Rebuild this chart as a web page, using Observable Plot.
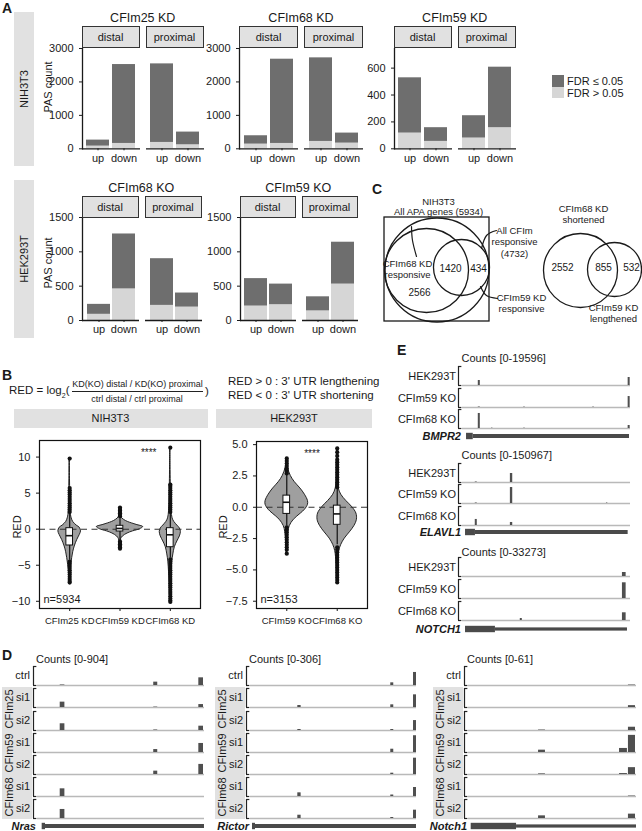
<!DOCTYPE html>
<html><head><meta charset="utf-8">
<script src="https://cdn.jsdelivr.net/npm/d3@7"></script>
<script src="https://cdn.jsdelivr.net/npm/@observablehq/plot@0.6"></script>
<style>
html,body{margin:0;padding:0;background:#fff;}
#fig{position:relative;width:642px;height:831px;overflow:hidden;font-family:"Liberation Sans",Arial,Helvetica,sans-serif;color:#1a1a1a;}
.t{position:absolute;white-space:nowrap;line-height:1;}
#fig svg{overflow:visible;}
</style></head><body><div id="fig"></div>
<script>
// ---------------- Panel A data ----------------
const directions = ["up", "down"];
const sites = ["distal", "proximal"];
const fdrLevels = ["FDR ≤ 0.05", "FDR > 0.05"];
// order of values: distal up, distal down, proximal up, proximal down
const kd25Total = [260, 2520, 2540, 500];
const kd25NonSig = [80, 160, 190, 120];
const kd68Total = [390, 2680, 2720, 470];
const kd68NonSig = [140, 160, 220, 170];
const kd59Total = [528, 157, 246, 607];
const kd59NonSig = [117, 55, 80, 157];
const ko68Total = [235, 1260, 900, 400];
const ko68NonSig = [90, 460, 220, 195];
const ko59Total = [610, 530, 345, 1140];
const ko59NonSig = [210, 230, 140, 530];
const yTicksKD = [0, 1000, 2000, 3000];
const yTicksKD59 = [0, 200, 400, 600];
const yTicksKO = [0, 500, 1000, 1500];

// ---------------- Panel B data ----------------
const nihGroups = ["CFIm25 KD", "CFIm59 KD", "CFIm68 KD"];
const hekGroups = ["CFIm59 KO", "CFIm68 KO"];
const nihN = 5934, hekN = 3153;
const nihTicks = [-10, -5, 0, 5, 10];
const hekTicks = [-7.5, -5, -2.5, 0, 2.5, 5];
// violin profiles: [RED, half width]
const violinNih25 = [[9.8,0.004],[7,0.006],[5,0.01],[3,0.015],[2,0.025],[1.5,0.04],[1,0.07],[0.5,0.14],[0.2,0.2],[-0.3,0.225],[-0.8,0.2],[-1.5,0.15],[-2.4,0.1],[-3.2,0.07],[-4,0.05],[-5,0.03],[-6,0.015],[-7.4,0.004]];
const violinNih59 = [[3.0,0.004],[2.2,0.008],[1.7,0.02],[1.3,0.08],[1.0,0.16],[0.6,0.33],[0.3,0.46],[0.0,0.4],[-0.3,0.26],[-0.6,0.15],[-1.0,0.06],[-1.4,0.02],[-2.0,0.008],[-2.7,0.004]];
const violinNih68 = [[11.3,0.004],[8,0.006],[6,0.01],[4,0.015],[2.5,0.025],[1.5,0.045],[1,0.08],[0.5,0.14],[0.1,0.19],[-0.4,0.21],[-1,0.19],[-1.7,0.14],[-2.5,0.09],[-3.5,0.06],[-4.5,0.04],[-6,0.025],[-8,0.012],[-10.1,0.004]];
const violinHek59 = [[3.9,0.004],[3.2,0.02],[2.5,0.08],[2.0,0.16],[1.5,0.27],[1.0,0.36],[0.5,0.42],[0.2,0.42],[-0.2,0.36],[-0.5,0.28],[-1.0,0.14],[-1.5,0.06],[-2.0,0.03],[-3.0,0.012],[-3.8,0.004]];
const violinHek68 = [[4.7,0.004],[3,0.008],[2,0.015],[1.5,0.03],[1.0,0.08],[0.5,0.18],[0.0,0.3],[-0.5,0.38],[-1.0,0.39],[-1.5,0.34],[-2.0,0.25],[-2.5,0.15],[-3.0,0.08],[-3.5,0.04],[-4.5,0.015],[-6.1,0.004]];
// box statistics: [q1, median, q3, whisker low, whisker high]
const boxNih = [[-2.26,-0.9,0.14,-4.3,2.2],[-0.32,0.1,0.47,-1.5,1.6],[-2.5,-0.78,0.14,-4.0,2.2]];
const boxHek = [[-0.53,0.4,0.93,-1.5,2.6],[-1.4,-0.53,0.13,-3.0,1.5]];
const outNih25 = [2.4,2.7,3.0,3.3,3.6,3.9,4.2,4.5,4.8,5.1,5.4,5.7,9.8,-4.5,-4.8,-5.1,-5.4,-5.7,-6.0,-6.3,-6.6,-6.9,-7.2,-7.4];
const outNih59 = [1.8,2.0,2.2,2.4,2.6,2.8,3.0,-1.7,-1.9,-2.1,-2.3,-2.5,-2.7];
const outNih68 = [2.4,2.7,3.0,3.3,3.6,3.9,4.2,4.5,4.8,5.1,5.4,5.7,6.0,6.2,11.3,-4.2,-4.5,-4.8,-5.1,-5.4,-5.7,-6.0,-6.3,-6.6,-6.9,-7.2,-7.5,-7.8,-8.1,-8.4,-8.7,-9.0,-9.3,-9.6,-9.9,-10.1];
const outHek59 = [2.7,2.9,3.1,3.3,3.5,3.7,3.9,-1.6,-1.8,-2.0,-2.2,-2.4,-2.6,-2.8,-3.0,-3.2,-3.4,-3.7];
const outHek68 = [1.6,1.8,2.0,2.2,2.4,2.6,2.8,3.0,3.2,3.4,3.6,3.8,4.1,4.4,4.7,-3.2,-3.4,-3.6,-3.8,-4.0,-4.2,-4.4,-4.6,-4.8,-5.0,-5.2,-5.4,-5.6,-5.8,-6.0];

// ---------------- Panel C data ----------------
const vennAllApa = 5934;
const vennAllCfim = 4732;
const venn68Only = 2566, venn68and59 = 1420, venn59Only = 434;
const vennShortOnly = 2552, vennShortLong = 855, vennLongOnly = 532;

// ---------------- Panel D data (site positions in % of locus) ----------------
const dTracks = ["ctrl", "CFIm25 si1", "CFIm25 si2", "CFIm59 si1", "CFIm59 si2", "CFIm68 si1", "CFIm68 si2"];
const nrasMax = 904, rictorMax = 306, notch1Max = 61;
const nrasSiteFrom = [13.6, 69.6, 96.6];
const nrasSiteTo = [16.4, 72.0, 99.4];
const nrasCounts = [[25,160,365],[255,20,140],[320,25,205],[0,140,430],[0,160,480],[365,0,0],[430,0,0]];
const rictorSiteFrom = [28.5, 84.5, 98.2];
const rictorSiteTo = [30.5, 86.3, 100];
const rictorCounts = [[0,43,210],[32,43,204],[16,16,160],[0,53,270],[0,21,263],[59,24,145],[53,16,134]];
const notch1SiteFrom = [41.7, 89.9, 95.2];
const notch1SiteTo = [45.8, 94.6, 99.4];
const notch1Counts = [[0,0,1.5],[0,0,6],[1.5,0,10.5],[7.5,13,55],[2,3,22],[0,0,1.5],[8.5,0,14]];
const nrasModel = [[2.8, 4.8, "box"], [4.8, 100, "line"]];
const rictorModel = [[1.2, 3.0, "box"], [3.0, 100, "line"]];
const notch1Model = [[1.6, 28.6, "box"], [28.6, 100, "thin"]];

// ---------------- Panel E data ----------------
const eTracks = ["HEK293T", "CFIm59 KO", "CFIm68 KO"];
const bmpr2Max = 19596, elavl1Max = 150967, notch1hMax = 33273;
const bmpr2SiteFrom = [9.4, 17.3, 36.5, 77.6, 98.6];
const bmpr2SiteTo = [10.6, 18.1, 37.3, 78.4, 99.8];
const bmpr2Counts = [[5150,0,0,0,8250],[500,0,500,500,11300],[15500,400,400,0,3100]];
const elavl1SiteFrom = [7.6, 28.5, 85.7];
const elavl1SiteTo = [8.8, 29.9, 86.5];
const elavl1Counts = [[4000,71500,0],[4000,127000,4000],[48000,24000,0]];
const notch1hSiteFrom = [34.4, 95.2];
const notch1hSiteTo = [35.6, 97.4];
const notch1hCounts = [[0,7000],[0,27500],[3500,13500]];
const bmpr2Model = [[2.4, 6.4, "box"], [6.4, 99.4, "line"]];
const elavl1Model = [[1.8, 7.7, "box"], [7.7, 98.6, "line"]];
const notch1hModel = [[1.8, 19.6, "box"], [19.6, 98.2, "thin"]];

// ---------------- helpers ----------------
const FONT = '"Liberation Sans", Arial, Helvetica, sans-serif';
const STRIP = "#e1e1e1";
const DARK = "#6e6e6e", LIGHT = "#d6d6d6";
const INK = "#1a1a1a";
const fig = document.getElementById("fig");
function place(node, left, top) {
  node.style.position = "absolute";
  node.style.left = left + "px";
  node.style.top = top + "px";
  fig.appendChild(node);
  return node;
}
function text(s, x, y, o = {}) {
  const d = document.createElement("div");
  d.className = "t";
  if (o.html) d.innerHTML = s; else d.textContent = s;
  d.style.fontSize = (o.size || 11) + "px";
  if (o.bold) d.style.fontWeight = "bold";
  if (o.italic) d.style.fontStyle = "italic";
  const a = o.anchor || "middle";
  const tx = a === "start" ? "0%" : a === "end" ? "-100%" : "-50%";
  d.style.transform = `translate(${tx},-50%)` + (o.rotate ? ` rotate(${o.rotate}deg)` : "");
  return place(d, x, y);
}
function box(x, y, w, h, fill, border) {
  const d = document.createElement("div");
  d.style.width = w + "px";
  d.style.height = h + "px";
  d.style.background = fill;
  d.style.boxSizing = "border-box";
  if (border) d.style.border = border;
  return place(d, x, y);
}
const baseStyle = {fontFamily: FONT, fontSize: "11px", color: INK, background: "transparent", overflow: "visible"};

// ---------------- Panel A ----------------
function barPanel(title, total, nonsig, ymax, yticks, fL, fR, fT, fB, stripTop, titleY) {
  const rows = [];
  sites.forEach((s, i) => directions.forEach((d, j) => rows.push({site: s, dir: d, fdr: fdrLevels[1], n: nonsig[i * 2 + j]})));
  sites.forEach((s, i) => directions.forEach((d, j) => rows.push({site: s, dir: d, fdr: fdrLevels[0], n: total[i * 2 + j] - nonsig[i * 2 + j]})));
  const ML = 40, MR = 2, MT = 6, MB = 22;
  const svg = Plot.plot({
    width: ML + (fR - fL) + MR, height: MT + (fB - fT) + MB,
    marginLeft: ML, marginRight: MR, marginTop: MT, marginBottom: MB,
    style: baseStyle,
    fx: {domain: sites, paddingInner: 0.1, paddingOuter: 0, axis: null, label: null},
    x: {domain: directions, paddingInner: 0.1, paddingOuter: 0.15},
    y: {domain: [0, ymax]},
    color: {domain: fdrLevels, range: [DARK, LIGHT]},
    marks: [
      Plot.barY(rows, {fx: "site", x: "dir", y: "n", fill: "fdr"}),
      Plot.ruleY([0], {stroke: INK, strokeWidth: 1.3}),
      Plot.frame({anchor: "left", facetAnchor: "left", stroke: INK, strokeWidth: 1.3}),
      Plot.axisY({ticks: yticks, tickFormat: "d", tickSize: 3, label: null, fontSize: 11}),
      Plot.axisX({tickSize: 2, tickPadding: 3, label: null, fontSize: 11})
    ]
  });
  place(svg, fL - ML, fT - MT);
  const fx = svg.scale("fx");
  sites.forEach(s => {
    const x0 = fL - ML + fx.apply(s);
    box(x0, stripTop, fx.bandwidth, fT - stripTop + 0.5, STRIP, "1.2px solid #333");
    text(s, x0 + fx.bandwidth / 2, (stripTop + fT) / 2 + 0.5, {size: 11});
  });
  text(title, (fL + fR) / 2, titleY, {size: 12.5});
}

text("A", 2, 8, {anchor: "start", bold: true, size: 14});
box(14, 12, 20, 154, STRIP);
text("NIH3T3", 24, 89, {rotate: -90, size: 11});
box(14, 180, 20, 158, STRIP);
text("HEK293T", 24, 259, {rotate: -90, size: 11});
text("PAS count", 48, 87, {rotate: -90, size: 11});
text("PAS count", 48, 263, {rotate: -90, size: 11});

barPanel("CFIm25 KD", kd25Total, kd25NonSig, 3000, yTicksKD, 81.5, 204, 47.7, 148, 26, 18.3);
barPanel("CFIm68 KD", kd68Total, kd68NonSig, 3000, yTicksKD, 239, 363, 47.7, 148, 26, 18.3);
barPanel("CFIm59 KD", kd59Total, kd59NonSig, 746, yTicksKD59, 393.5, 516, 47.7, 148, 26, 18.3);
barPanel("CFIm68 KO", ko68Total, ko68NonSig, 1500, yTicksKO, 80.5, 202, 217, 320, 196, 188.3);
barPanel("CFIm59 KO", ko59Total, ko59NonSig, 1500, yTicksKO, 238.5, 358, 217, 320, 196, 188.3);

// legend
box(552, 75, 12, 11.5, DARK);
box(552, 86.5, 12, 11.5, LIGHT);
text(fdrLevels[0], 567, 81, {anchor: "start", size: 11});
text(fdrLevels[1], 567, 92.5, {anchor: "start", size: 11});

// ---------------- Panel B ----------------
text("B", 2, 375, {anchor: "start", bold: true, size: 14});
text('RED = log<sub style="font-size:7px">2</sub>(', 9, 392, {anchor: "start", size: 11.5, html: true});
text("KD(KO) distal / KD(KO) proximal", 137.5, 383.5, {size: 9});
box(72, 390.5, 131, 1, "#222");
text("ctrl distal / ctrl proximal", 137, 398.5, {size: 9});
text(")", 207, 392, {size: 11.5});
text("RED > 0 : 3' UTR lengthening", 228, 382, {anchor: "start", size: 11.5});
text("RED < 0 : 3' UTR shortening", 228, 396, {anchor: "start", size: 11.5});
box(13.5, 408.5, 194, 19, STRIP);
text("NIH3T3", 110.5, 418, {size: 11});
box(216, 408.5, 156, 19, STRIP);
text("HEK293T", 294, 418, {size: 11});

function violinPanel(groups, profiles, stats, outs, ydom, yticks, yfmt, fL, fR, fT, fB, nText, starPos) {
  const ML = 36, MR = 4, MT = 6, MB = 22;
  const n = groups.length;
  const boxRows = stats.map((s, i) => ({pos: i + 1, q1: s[0], med: s[1], q3: s[2], lo: s[3], hi: s[4]}));
  const dotRows = outs.flatMap((arr, i) => arr.map(v => ({pos: i + 1, v})));
  const hw = 0.066;
  const svg = Plot.plot({
    width: ML + (fR - fL) + MR, height: MT + (fB - fT) + MB,
    marginLeft: ML, marginRight: MR, marginTop: MT, marginBottom: MB,
    style: baseStyle,
    x: {domain: [0.4, n + 0.6]},
    y: {domain: ydom},
    marks: [
      ...profiles.map((prof, i) => Plot.areaX(prof, {y: d => d[0], x1: d => i + 1 - d[1], x2: d => i + 1 + d[1], fill: "#9f9f9f", stroke: "#111", strokeWidth: 0.9, curve: "catmull-rom"})),
      Plot.ruleY([0], {stroke: "#333", strokeDasharray: "6,4.5", strokeWidth: 1.1}),
      Plot.ruleX(boxRows, {x: "pos", y1: "lo", y2: "hi", stroke: "#111", strokeWidth: 1.2}),
      Plot.dot(dotRows, {x: "pos", y: "v", r: 2.1, fill: "#111", stroke: null}),
      Plot.rect(boxRows, {x1: d => d.pos - hw, x2: d => d.pos + hw, y1: "q1", y2: "q3", fill: "white", stroke: "#111", strokeWidth: 1}),
      Plot.ruleY(boxRows, {y: "med", x1: d => d.pos - hw, x2: d => d.pos + hw, stroke: "#111", strokeWidth: 1.6}),
      Plot.text(["****"], {x: starPos, frameAnchor: "top", dy: 8, fontSize: 10}),
      Plot.text([nText], {frameAnchor: "bottom-left", dx: 4, dy: -6, textAnchor: "start", fontSize: 11}),
      Plot.frame({stroke: "#111", strokeWidth: 1.2}),
      Plot.axisY({ticks: yticks, tickFormat: yfmt, tickSize: 3, label: null, fontSize: 11}),
      Plot.axisX({ticks: d3.range(1, n + 1), tickFormat: i => groups[i - 1], tickSize: 3, label: null, fontSize: 9.5})
    ]
  });
  place(svg, fL - ML, fT - MT);
}
violinPanel(nihGroups, [violinNih25, violinNih59, violinNih68], boxNih, [outNih25, outNih59, outNih68],
  [-11, 12.3], nihTicks, d3.format("d"), 39.3, 200.3, 440, 608, "n=" + nihN, 2.57);
violinPanel(hekGroups, [violinHek59, violinHek68], boxHek, [outHek59, outHek68],
  [-8.08, 5.25], hekTicks, d3.format(".1f"), 256, 367, 441, 608, "n=" + hekN, 1.5);
text("RED", 17, 527, {rotate: -90, size: 11});
text("RED", 223, 527, {rotate: -90, size: 11});

// ---------------- Panel C ----------------
text("C", 372, 189, {anchor: "start", bold: true, size: 14});
{
  const left = [
    {x: 66.5, y: 89.5, r: 52},
    {x: 56, y: 90, r: 42},
    {x: 91, y: 87, r: 28}
  ];
  const right = [
    {x: 210, y: 90, r: 37},
    {x: 244, y: 89, r: 27}
  ];
  const counts = [
    {x: 80, y: 88, t: venn68and59}, {x: 108, y: 88, t: venn59Only}, {x: 49, y: 112, t: venn68Only},
    {x: 192, y: 87, t: vennShortOnly}, {x: 233, y: 87, t: vennShortLong}, {x: 261, y: 87, t: vennLongOnly}
  ];
  const labels = [
    {x: 68, y: 21.7, t: "NIH3T3"}, {x: 68, y: 31.7, t: `All APA genes (${vennAllApa})`},
    {x: 37, y: 83, t: "CFIm68 KD"}, {x: 37, y: 94, t: "responsive"},
    {x: 144, y: 50, t: "All CFIm"}, {x: 144, y: 61.5, t: "responsive"}, {x: 144, y: 73, t: `(${vennAllCfim})`},
    {x: 151, y: 117, t: "CFIm59 KD"}, {x: 151, y: 128, t: "responsive"},
    {x: 213, y: 28.3, t: "CFIm68 KD"}, {x: 213, y: 39.5, t: "shortened"},
    {x: 243, y: 127, t: "CFIm59 KD"}, {x: 243, y: 138.5, t: "lengthened"}
  ];
  const leaders = [
    [[41, 46], [42, 60], [46, 76]],
    [[126, 50], [116, 55], [111, 68]],
    [[127, 118], [116, 115], [110, 106]]
  ];
  const svg = Plot.plot({
    width: 272, height: 152, margin: 0, style: baseStyle,
    x: {domain: [0, 272], range: [0, 272], axis: null},
    y: {domain: [0, 152], range: [0, 152], axis: null},
    marks: [
      Plot.rect([{x1: 14, x2: 119, y1: 37, y2: 141}], {x1: "x1", x2: "x2", y1: "y1", y2: "y2", fill: "none", stroke: INK, strokeWidth: 1.3}),
      ...left.concat(right).map(c => Plot.dot([c], {x: "x", y: "y", r: c.r, fill: "none", stroke: INK, strokeWidth: 1.3})),
      ...leaders.map(l => Plot.line(l, {x: d => d[0], y: d => d[1], curve: "natural", stroke: INK, strokeWidth: 1.2})),
      Plot.text(counts, {x: "x", y: "y", text: d => String(d.t), fontSize: 10}),
      Plot.text(labels, {x: "x", y: "y", text: "t", fontSize: 9.5})
    ]
  });
  place(svg, 370, 180);
}

// ---------------- Panels D & E: tracks ----------------
function trackPlot(from, to, counts, maxV, left, len, baseline) {
  const peaks = from.map((f, i) => ({x1: f, x2: to[i], v: counts[i]})).filter(p => p.v > 0);
  const ML = 6;
  const svg = Plot.plot({
    width: ML + len, height: 21, marginLeft: ML, marginRight: 0, marginTop: 1, marginBottom: 1,
    style: baseStyle,
    x: {domain: [0, 100], axis: null},
    y: {domain: [0, maxV], axis: null},
    marks: [
      Plot.ruleY([0], {stroke: "#b9b9b9", strokeWidth: 1.3}),
      Plot.rect(peaks, {x1: "x1", x2: "x2", y1: 0, y2: "v", fill: "#4f4f4f"}),
      Plot.ruleX([0], {y1: 0, y2: maxV, dx: -4, stroke: "#222", strokeWidth: 1.2}),
      Plot.ruleY([0, maxV], {x1: 0, x2: 2, dx: -4, stroke: "#222", strokeWidth: 1.2})
    ]
  });
  place(svg, left - ML, baseline - 20);
}
const geneHalf = {box: 3.2, line: 2, thin: 1.6};
function geneModel(model, name, left, len, cy) {
  const svg = Plot.plot({
    width: 6 + len, height: 10, marginLeft: 6, marginRight: 0, marginTop: 0, marginBottom: 0,
    style: baseStyle,
    x: {domain: [0, 100], axis: null},
    y: {domain: [-5, 5], axis: null},
    marks: [Plot.rect(model, {x1: d => d[0], x2: d => d[1], y1: d => -geneHalf[d[2]], y2: d => geneHalf[d[2]], fill: "#4a4a4a"})]
  });
  place(svg, left - 6, cy - 5);
  text(name, left - 1, cy, {anchor: "end", bold: true, italic: true, size: 11});
}
function dColumn(name, from, to, counts, maxV, model, left, len) {
  const base0 = 685.3, step = 22.1;
  [[1, 2, "CFIm25"], [3, 4, "CFIm59"], [5, 6, "CFIm68"]].forEach(([a, b, g]) => {
    const top = base0 + a * step - 20.5, bottom = base0 + b * step + 1.5;
    box(left - 35, top, 30, bottom - top, STRIP);
    text(g, left - 28, (top + bottom) / 2, {rotate: -90, size: 11});
  });
  dTracks.forEach((t, i) => {
    const b = base0 + i * step;
    trackPlot(from, to, counts[i], maxV, left, len, b);
    text(t.split(" ").pop(), left - 7, b - 10, {anchor: "end", size: 11});
  });
  text(`Counts [0-${maxV}]`, left - 1, 659, {anchor: "start", size: 11});
  geneModel(model, name, left, len, 826);
}
text("D", 2, 655, {anchor: "start", bold: true, size: 14});
dColumn("Nras", nrasSiteFrom, nrasSiteTo, nrasCounts, nrasMax, nrasModel, 37, 167);
dColumn("Rictor", rictorSiteFrom, rictorSiteTo, rictorCounts, rictorMax, rictorModel, 250, 166);
dColumn("Notch1", notch1SiteFrom, notch1SiteTo, notch1Counts, notch1Max, notch1Model, 468, 168);

function eBlock(name, from, to, counts, maxV, model, base0, step, countsY, geneY) {
  const left = 462, len = 168;
  text(`Counts [0-${maxV}]`, left - 0.5, countsY, {anchor: "start", size: 11});
  eTracks.forEach((t, i) => {
    const b = base0 + i * step;
    trackPlot(from, to, counts[i], maxV, left, len, b);
    text(t, left - 6, b - 9, {anchor: "end", size: 11});
  });
  geneModel(model, name, left, len, geneY);
}
text("E", 397, 350, {anchor: "start", bold: true, size: 14});
eBlock("BMPR2", bmpr2SiteFrom, bmpr2SiteTo, bmpr2Counts, bmpr2Max, bmpr2Model, 385, 21.7, 358, 436);
eBlock("ELAVL1", elavl1SiteFrom, elavl1SiteTo, elavl1Counts, elavl1Max, elavl1Model, 481.7, 21.7, 455, 532.3);
eBlock("NOTCH1", notch1hSiteFrom, notch1hSiteTo, notch1hCounts, notch1hMax, notch1hModel, 576.3, 22, 551.7, 629);
</script></body></html>
